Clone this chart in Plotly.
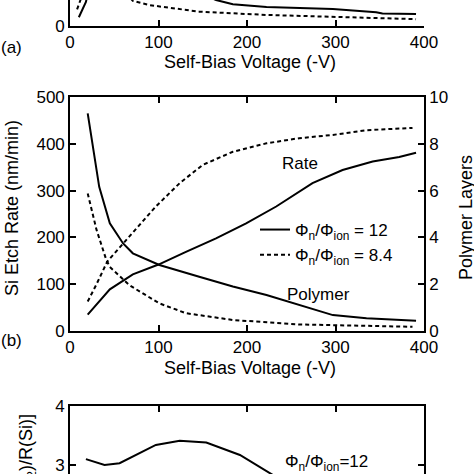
import plotly.graph_objects as go

# ---------------- data ----------------
# Panel (a) (only the bottom strip is visible)
a_solid_v = [10, 18, 30, 60, 100, 140, 165, 184, 222, 297, 346, 353, 391]
a_solid_y = [18, 51, 150, 180, 120, 75, 55, 46, 40, 36, 29, 26, 25]
a_dash_v = [8, 14, 30, 50, 71, 90, 146, 222, 297, 391]
a_dash_y = [35, 60, 150, 100, 53, 44, 30, 23, 19, 14]

# Panel (b)
rate12_v = [20, 45, 71, 100, 131, 165, 199, 233, 274, 308, 342, 372, 391]
rate12 = [35, 89, 121, 142, 169, 198, 230, 266, 316, 344, 362, 372, 381]
rate84_v = [20, 30, 42, 67, 97, 124, 150, 184, 222, 259, 297, 335, 387]
rate84 = [63, 100, 148, 201, 266, 316, 355, 383, 401, 412, 419, 429, 434]
poly12_v = [20, 33, 45, 60, 71, 101, 146, 184, 222, 259, 297, 335, 372, 391]
poly12 = [9.3, 6.16, 4.6, 3.74, 3.32, 2.82, 2.32, 1.9, 1.54, 1.12, 0.68, 0.54, 0.47, 0.44]
poly84_v = [20, 30, 41, 45, 67, 101, 131, 184, 259, 387]
poly84 = [5.88, 4.32, 3.04, 2.74, 1.96, 1.18, 0.76, 0.47, 0.28, 0.18]

# Panel (c) (only the top strip is visible)
sel_v = [18, 39, 56, 97, 124, 154, 192, 229, 260]
sel = [3.10, 3.00, 3.03, 3.34, 3.41, 3.38, 3.17, 2.86, 2.55]

x_ticks = [0, 100, 200, 300, 400]
left_ticks_b = [0, 100, 200, 300, 400, 500]
right_ticks_b = [0, 2, 4, 6, 8, 10]
ticks_c = [3, 4]

label12 = "Φ<sub>n</sub>/Φ<sub>ion</sub> = 12"
label84 = "Φ<sub>n</sub>/Φ<sub>ion</sub> = 8.4"
label_c = "Φ<sub>n</sub>/Φ<sub>ion</sub>=12"

# ---------------- geometry helpers (pixels -> paper) ----------------
W, H = 474, 474
L, R = 70, 50
PW = W - L - R


def px(x):
    return (x - L) / PW


def py(y):
    return 1 - y / H


FONT = "Liberation Sans, Arial, Helvetica, sans-serif"
BLK = "black"
SOLID = dict(color=BLK, width=2)
DASH = dict(color=BLK, width=2, dash="4px,3px")

fig = go.Figure()
# (a)
fig.add_trace(go.Scatter(x=a_solid_v, y=a_solid_y, mode="lines", line=SOLID,
                         xaxis="x", yaxis="y", showlegend=False))
fig.add_trace(go.Scatter(x=a_dash_v, y=a_dash_y, mode="lines", line=DASH,
                         xaxis="x", yaxis="y", showlegend=False))
# (b)
fig.add_trace(go.Scatter(x=rate12_v, y=rate12, mode="lines", line=SOLID,
                         xaxis="x2", yaxis="y3", name=label12, showlegend=True))
fig.add_trace(go.Scatter(x=rate84_v, y=rate84, mode="lines", line=DASH,
                         xaxis="x2", yaxis="y3", name=label84, showlegend=True))
fig.add_trace(go.Scatter(x=poly12_v, y=poly12, mode="lines", line=SOLID,
                         xaxis="x2", yaxis="y4", showlegend=False))
fig.add_trace(go.Scatter(x=poly84_v, y=poly84, mode="lines", line=DASH,
                         xaxis="x2", yaxis="y4", showlegend=False))
# (c)
fig.add_trace(go.Scatter(x=sel_v, y=sel, mode="lines", line=SOLID,
                         xaxis="x3", yaxis="y5", showlegend=False))

common = dict(showline=True, linecolor=BLK, linewidth=1.6, ticks="inside",
              ticklen=6, tickwidth=1.6, tickcolor=BLK, showgrid=False,
              zeroline=False, automargin=False, ticklabeloverflow="allow",
              tickfont=dict(size=17, color=BLK, family=FONT))

dom_a = [py(25.7), 1.0]
dom_b = [py(331), py(97)]
dom_c = [0.0, py(406)]

fig.update_layout(
    width=W, height=H,
    margin=dict(l=L, r=R, t=0, b=0, autoexpand=False),
    paper_bgcolor="white", plot_bgcolor="white",
    font=dict(family=FONT, size=17, color=BLK),
    xaxis=dict(common, domain=[0, 1], range=[0, 400], tickvals=x_ticks,
               anchor="y", mirror=False),
    yaxis=dict(common, domain=dom_a, range=[0, 55], tickvals=[0], anchor="x"),
    yaxis2=dict(common, overlaying="y", side="right", range=[0, 1.1],
                tickvals=[0], anchor="x"),
    xaxis2=dict(common, domain=[0, 1], range=[0, 400], tickvals=x_ticks,
                anchor="y3", mirror="ticks"),
    yaxis3=dict(common, domain=dom_b, range=[0, 500], tickvals=left_ticks_b,
                anchor="x2"),
    yaxis4=dict(common, overlaying="y3", side="right", range=[0, 10],
                tickvals=right_ticks_b, anchor="x2"),
    xaxis3=dict(common, domain=[0, 1], range=[0, 400], tickvals=[100, 200, 300],
                anchor="y5", side="top", showticklabels=False),
    yaxis5=dict(common, domain=dom_c, range=[2.847, 4.0005], tickvals=ticks_c,
                anchor="x3", mirror="ticks"),
    legend=dict(x=px(255), y=py(212), xanchor="left", yanchor="top",
                bgcolor="rgba(0,0,0,0)", font=dict(size=17, family=FONT),
                itemwidth=30, tracegroupgap=0),
)

ann = []


def text(x, y, s, size=17, angle=0, xa="center", ya="middle"):
    ann.append(dict(x=px(x), y=py(y), xref="paper", yref="paper", text=s,
                    showarrow=False, textangle=angle, xanchor=xa, yanchor=ya,
                    font=dict(size=size, family=FONT, color=BLK)))


text(250, 62, "Self-Bias Voltage (-V)", 18)
text(11, 48, "(a)", 17)
text(250, 368, "Self-Bias Voltage (-V)", 18)
text(11, 340, "(b)", 17)
text(12, 208, "Si Etch Rate (nm/min)", 18, -90)
text(466, 217, "Polymer Layers", 18, -90)
text(300, 163, "Rate", 17)
text(318, 294, "Polymer", 17)
text(283, 463, label_c, 17, xa="left")
text(27, 412, "Selectivity [R(SiO<sub>2</sub>)/R(Si)]", 18, -90, ya="top")
fig.update_layout(annotations=ann)

fig.write_html("out.html",
               config={"displayModeBar": False},
               post_script="document.body.style.margin='0';")
